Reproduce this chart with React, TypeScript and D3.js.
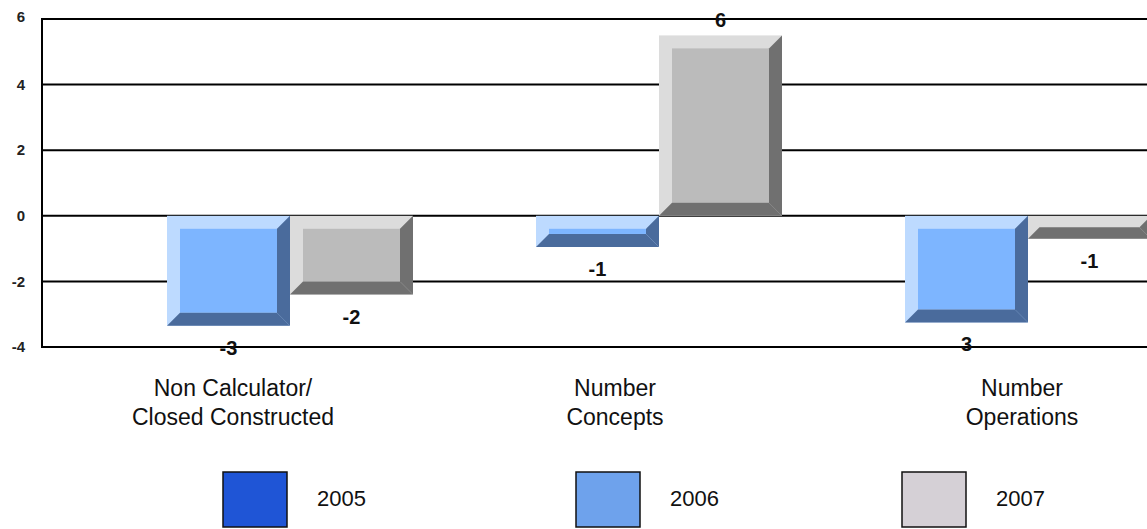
import React from "react";
import * as d3 from "d3";

const categories = ["Non Calculator/\nClosed Constructed", "Number\nConcepts", "Number\nOperations"];
const years = ["2005", "2006", "2007"];
const values2005: (number | null)[] = [null, null, null];
const values2006 = [-3.35, -0.95, -3.25];
const values2007 = [-2.4, 5.5, -0.7];
const labels2006 = ["-3", "-1", "3"];
const labels2007 = ["-2", "6", "-1"];
const yTicks = [-4, -2, 0, 2, 4, 6];

const W = 1147;
const H = 529;

const barColors: Record<string, { light: string; face: string; dark: string }> = {
  "2005": { light: "#6f93e8", face: "#2a5ed8", dark: "#163a8c" },
  "2006": { light: "#bddaff", face: "#7db5ff", dark: "#4a6b9c" },
  "2007": { light: "#dcdcdc", face: "#bbbbbb", dark: "#707070" },
};
const legendColors = ["#1f55d6", "#6ea2ec", "#d5d0d6"];

export default function App() {
  const y = d3.scaleLinear().domain([-4, 6]).range([347, 19]);
  const x = d3.scaleBand().domain(categories).range([44, 1151]).paddingInner(0).paddingOuter(0);
  const xs = d3.scaleBand().domain(years).range([0, x.bandwidth()]);
  const labelX = d3.scaleLinear().domain([0, 1, 2]).range([233, 615, 1022]);
  const legendX = d3.scaleLinear().domain([0, 1, 2]).range([223, 576, 902]);

  const series = [
    { year: "2005", values: values2005, labels: ["", "", ""] },
    { year: "2006", values: values2006, labels: labels2006 },
    { year: "2007", values: values2007, labels: labels2007 },
  ];

  const bars: React.ReactNode[] = [];
  const vlabels: React.ReactNode[] = [];
  series.forEach((s) => {
    s.values.forEach((v, i) => {
      if (v === null || v === undefined) return;
      const x0 = (x(categories[i]) as number) + (xs(s.year) as number);
      const x1 = x0 + xs.bandwidth();
      const yTop = Math.min(y(v), y(0));
      const yBot = Math.max(y(v), y(0));
      const h = yBot - yTop;
      const b = Math.min(13, h / 2);
      const c = barColors[s.year];
      bars.push(
        <g key={s.year + i}>
          <rect x={x0} y={yTop} width={x1 - x0} height={h} fill={c.light} />
          <rect x={x0 + b} y={yTop + b} width={Math.max(0, x1 - x0 - 2 * b)} height={Math.max(0, h - 2 * b)} fill={c.face} />
          <polygon points={`${x1 - b},${yTop + b} ${x1},${yTop} ${x1},${yBot} ${x1 - b},${yBot - b}`} fill={c.dark} />
          <polygon points={`${x0},${yBot} ${x0 + b},${yBot - b} ${x1 - b},${yBot - b} ${x1},${yBot}`} fill={c.dark} />
        </g>
      );
      const cx = (x0 + x1) / 2;
      const ly = v < 0 ? yBot + 29 : yTop - 8;
      vlabels.push(
        <text key={"l" + s.year + i} x={cx} y={ly} textAnchor="middle" fontFamily="Arial, 'Liberation Sans', sans-serif" fontSize={20} fontWeight="bold" fill="#111">
          {s.labels[i]}
        </text>
      );
    });
  });

  return (
    <svg width={W} height={H} style={{ position: "absolute", left: 0, top: 0, display: "block", background: "#fff" }}>
      <rect x={0} y={0} width={W} height={H} fill="#fff" />
      {yTicks.map((t) => (
        <g key={t}>
          <line x1={42} x2={W} y1={y(t)} y2={y(t)} stroke="#000" strokeWidth={2} />
          <text x={25} y={y(t)} dy={t === 6 ? "0.2em" : "0.35em"} textAnchor="end" fontFamily="Arial, 'Liberation Sans', sans-serif" fontSize={15} fontWeight="bold" fill="#222">
            {t}
          </text>
        </g>
      ))}
      <line x1={42} x2={42} y1={y(6) - 1} y2={y(-4) + 1} stroke="#000" strokeWidth={2} />
      {bars}
      {vlabels}
      {categories.map((cat, i) =>
        cat.split("\n").map((line, j) => (
          <text key={cat + j} x={labelX(i)} y={396 + j * 29} textAnchor="middle" fontFamily="Arial, 'Liberation Sans', sans-serif" fontSize={23} fill="#111">
            {line}
          </text>
        ))
      )}
      {years.map((yr, i) => (
        <g key={yr}>
          <rect x={legendX(i)} y={472} width={64} height={55} fill={legendColors[i]} stroke="#111" strokeWidth={1.5} />
          <text x={legendX(i) + 94} y={506} fontFamily="Arial, 'Liberation Sans', sans-serif" fontSize={22} fill="#111">
            {yr}
          </text>
        </g>
      ))}
    </svg>
  );
}
